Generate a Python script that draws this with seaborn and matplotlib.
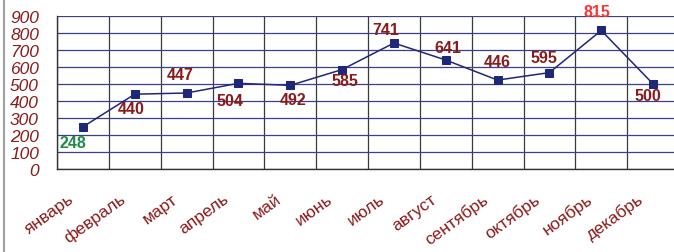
import matplotlib
matplotlib.use("Agg")
import matplotlib.pyplot as plt
import matplotlib.transforms as mtransforms
from matplotlib.lines import Line2D
import numpy as np
import pandas as pd
import seaborn as sns

months = ["январь", "февраль", "март", "апрель", "май", "июнь",
          "июль", "август", "сентябрь", "октябрь", "ноябрь", "декабрь"]
values = [248, 440, 447, 504, 492, 585, 741, 641, 523, 567, 815, 500]
value_labels = ["248", "440", "447", "504", "492", "585",
                "741", "641", "446", "595", "815", "500"]
label_colors = ["#1f8a4c"] + ["#8b1a1a"] * 9 + ["#ff3333", "#8b1a1a"]
# label offsets in pixels (dx, dy; positive dy = downwards)
label_offsets = [(-10, 16), (-4, 14), (-6, -19), (-8, 17), (3, 14), (3, 11),
                 (-8, -14), (2, -13), (0, -19), (-5, -15), (-4, -19), (-5, 12)]

DARK_RED = "#8b1a1a"
NAVY = "#1f2878"

sns.set_style("white")
plt.rcParams["font.family"] = ["Liberation Sans", "DejaVu Sans"]

df = pd.DataFrame({"pos": np.arange(len(months)), "value": values})

fig = plt.figure(figsize=(6.74, 2.53), dpi=100)
ax = fig.add_axes([57 / 674, 1 - 170 / 253, (679 - 57) / 674, 153 / 253])

sns.lineplot(data=df, x="pos", y="value", ax=ax, color=NAVY, lw=1.1,
             marker="s", markersize=5.5, markeredgecolor=NAVY, zorder=5)

ax.set_xlim(-0.5, 11.5)
ax.set_ylim(0, 900)
ax.set_xlabel("")
ax.set_ylabel("")

# vertical grid at category boundaries, labels at centers
ax.set_xticks(np.arange(-0.5, 12, 1.0))
ax.set_xticklabels([])
ax.set_xticks(np.arange(len(months)), minor=True)
ax.set_xticklabels(months, minor=True, rotation=36, ha="right", va="center",
                   rotation_mode="anchor", color=DARK_RED, fontsize=12.5)
ax.tick_params(axis="x", which="major", length=5, width=1, color="#404040",
               direction="out")
ax.tick_params(axis="x", which="minor", length=0, pad=20)
offset = mtransforms.ScaledTranslation(-11 / 100, 0, fig.dpi_scale_trans)
for lbl in ax.get_xticklabels(minor=True):
    lbl.set_transform(lbl.get_transform() + offset)

ax.set_yticks(np.arange(0, 901, 100))
ax.set_yticklabels([str(v) for v in range(0, 901, 100)], style="italic",
                   color=DARK_RED, fontsize=12.5)
ax.tick_params(axis="y", length=0, pad=13)

ax.grid(axis="y", color="#3b3f8c", lw=0.9)
ax.grid(axis="x", which="major", color="#3a3a3a", lw=0.9)
ax.set_axisbelow(True)

for side in ["top", "right"]:
    ax.spines[side].set_visible(False)
for side in ["left", "bottom"]:
    ax.spines[side].set_color("#333333")
    ax.spines[side].set_linewidth(1.0)

for i, (txt, col, (dx, dy)) in enumerate(zip(value_labels, label_colors, label_offsets)):
    ax.annotate(txt, (i, values[i]), xytext=(dx * 0.72, -dy * 0.72),
                textcoords="offset points", ha="center", va="center",
                color=col, fontsize=11.5, fontweight="bold", zorder=6)

fig.add_artist(Line2D([4 / 674, 4 / 674], [0, 1], color="#a0a0a0", lw=1.5))

fig.savefig("out.png", dpi=100)
